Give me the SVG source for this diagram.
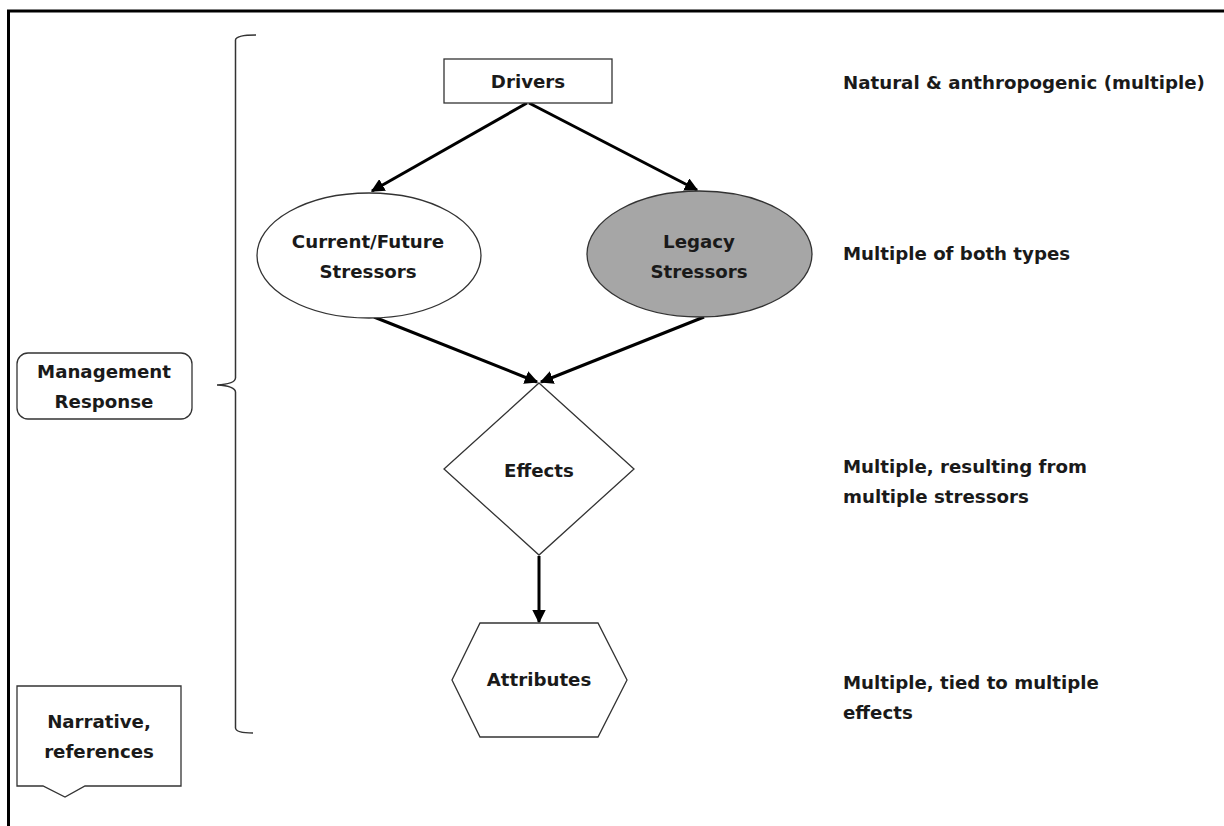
<svg xmlns="http://www.w3.org/2000/svg" width="1224" height="826" viewBox="0 0 1224 826">
<defs>
<style>
text{font-family:"DejaVu Sans","Liberation Sans",sans-serif;font-weight:bold;font-size:18.2px;fill:#1a1a1a}
.c{text-anchor:middle}
.shape{fill:#fff;stroke:#333;stroke-width:1.3}
.conn{stroke:#000;stroke-width:3;fill:none;marker-end:url(#ah)}
</style>
<marker id="ah" viewBox="0 0 10 10" refX="9" refY="5" markerWidth="4.5" markerHeight="4.5" orient="auto" markerUnits="strokeWidth">
<path d="M0,0 L10,5 L0,10 z" fill="#000"/>
</marker>
</defs>
<rect width="1224" height="826" fill="#fff"/>
<g id="frame">
<path d="M1224,11 L8.5,11 L8.5,826" fill="none" stroke="#000" stroke-width="3"/>
</g>
<g id="bracket">
<path d="M256,35 Q236,35 235.5,40 L235.5,378 Q235,384 217,385 Q235,386 235.5,392 L235.5,728 Q236,733 253,733" fill="none" stroke="#333" stroke-width="1.5"/>
</g>
<g id="connectors">
<line class="conn" x1="527" y1="103" x2="372" y2="191"/>
<line class="conn" x1="529" y1="103" x2="697" y2="190"/>
<line class="conn" x1="374" y1="317" x2="537" y2="382"/>
<line class="conn" x1="704" y1="317" x2="541" y2="382"/>
<line class="conn" x1="539" y1="556" x2="539" y2="622"/>
</g>
<g id="drivers">
<rect class="shape" x="444" y="59" width="168" height="44"/>
<text class="c" x="528" y="88">Drivers</text>
</g>
<g id="current-stressors">
<ellipse class="shape" cx="369" cy="255.5" rx="112" ry="62.5"/>
<text class="c" x="368" y="248">Current/Future</text>
<text class="c" x="368" y="278">Stressors</text>
</g>
<g id="legacy-stressors">
<ellipse cx="699.5" cy="254" rx="112.5" ry="63" fill="#a6a6a6" stroke="#333" stroke-width="1.3"/>
<text class="c" x="699" y="248">Legacy</text>
<text class="c" x="699" y="278">Stressors</text>
</g>
<g id="effects">
<polygon class="shape" points="539,383 634,469 539,555 444,469"/>
<text class="c" x="539" y="477">Effects</text>
</g>
<g id="attributes">
<polygon class="shape" points="480,623 598,623 627,680 598,737 480,737 452,680"/>
<text class="c" x="539" y="686">Attributes</text>
</g>
<g id="management-response">
<rect class="shape" x="17" y="353" width="175" height="66" rx="11"/>
<text class="c" x="104" y="378">Management</text>
<text class="c" x="104" y="408">Response</text>
</g>
<g id="narrative">
<path class="shape" d="M17,686 L181,686 L181,786 L85,786 L65,797 L43,786 L17,786 Z"/>
<text class="c" x="99" y="728">Narrative,</text>
<text class="c" x="99" y="758">references</text>
</g>
<g id="labels">
<text x="843" y="89">Natural &amp; anthropogenic (multiple)</text>
<text x="843" y="260">Multiple of both types</text>
<text x="843" y="473">Multiple, resulting from</text>
<text x="843" y="503">multiple stressors</text>
<text x="843" y="689">Multiple, tied to multiple</text>
<text x="843" y="719">effects</text>
</g>
</svg>
